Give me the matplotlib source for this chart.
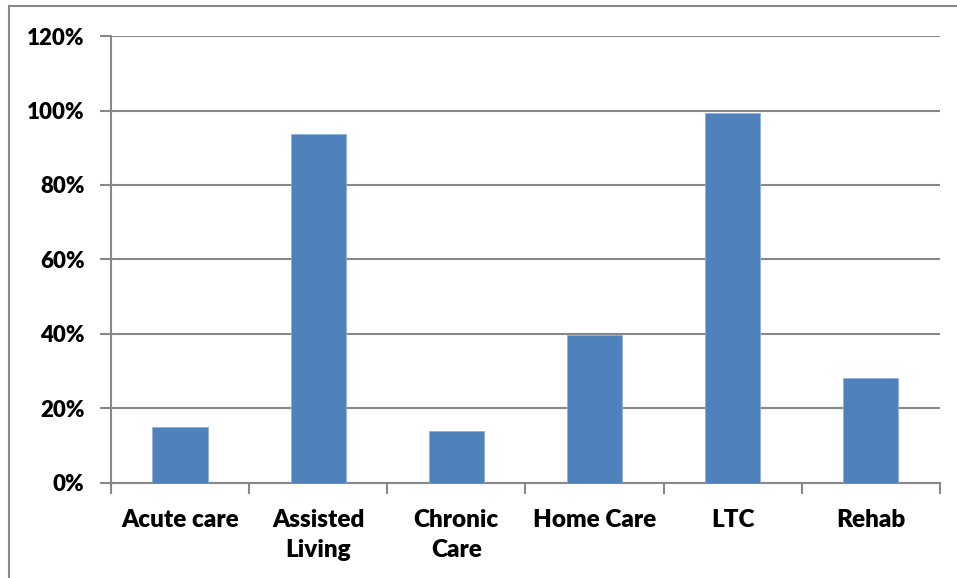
import matplotlib.pyplot as plt
from matplotlib.lines import Line2D
from matplotlib.ticker import FuncFormatter

categories = ["Acute care", "Assisted\nLiving", "Chronic\nCare", "Home Care", "LTC", "Rehab"]
values = [0.15, 0.938, 0.139, 0.396, 0.994, 0.281]

plt.rcParams['font.family'] = ['Lato', 'DejaVu Sans']
plt.rcParams['font.weight'] = 'bold'

fig = plt.figure(figsize=(9.57, 5.78), dpi=100)
ax = fig.add_axes([0.116, 0.1644, 0.866, 0.7733])

x = range(len(categories))
ax.bar(x, values, width=0.4, color='#4F81BD', edgecolor='#8FB0DA', linewidth=0.6, zorder=3)

ax.set_xlim(-0.5, len(categories) - 0.5)
ax.set_ylim(0, 1.2)
ax.set_yticks([0, 0.2, 0.4, 0.6, 0.8, 1.0, 1.2])
ax.yaxis.set_major_formatter(FuncFormatter(lambda v, p: f"{v*100:.0f}%"))
ax.grid(axis='y', color='#888888', linewidth=1.5, zorder=0)

ax.set_xticks(list(x))
ax.set_xticklabels(categories, fontsize=17.5, fontweight='heavy', linespacing=1.45)
ax.tick_params(axis='x', length=0, pad=19)
ax.set_xticks([i + 0.5 for i in range(-1, len(categories))], minor=True)
ax.tick_params(axis='x', which='minor', length=8, width=1.5, color='#888888')
ax.tick_params(axis='y', length=8, width=1.5, color='#888888', labelsize=16, pad=11)
for lab in ax.get_yticklabels():
    lab.set_fontweight('heavy')

for s in ['top', 'right']:
    ax.spines[s].set_visible(False)
for s in ['left', 'bottom']:
    ax.spines[s].set_color('#888888')
    ax.spines[s].set_linewidth(1.5)

# outer chart border
fig.add_artist(Line2D([9/957, 9/957], [0, 1 - 6/578], color='#888888', linewidth=1.5, transform=fig.transFigure))
fig.add_artist(Line2D([9/957, 1], [1 - 6/578, 1 - 6/578], color='#888888', linewidth=1.5, transform=fig.transFigure))

fig.savefig('out.png', dpi=100)
